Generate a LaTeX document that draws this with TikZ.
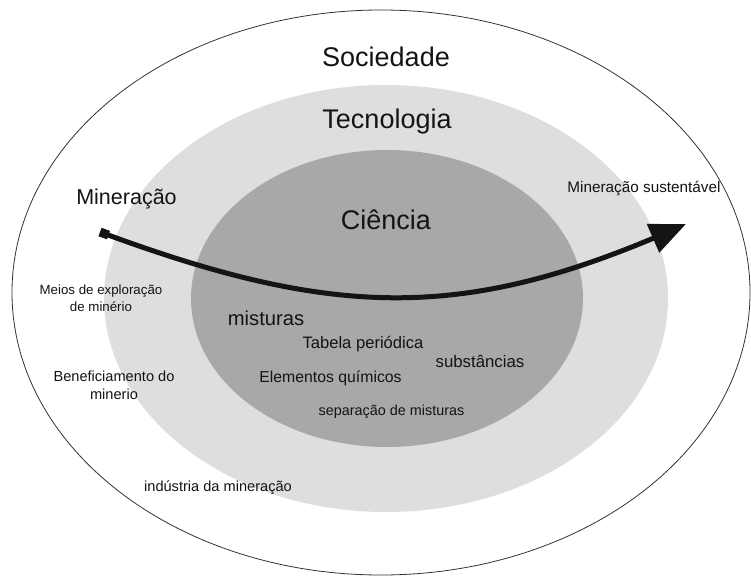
\documentclass[tikz,border=0pt]{standalone}
\usepackage{fontspec}
\setmainfont{Liberation Sans}
\usetikzlibrary{arrows.meta,bending,shapes.geometric}
\definecolor{midgray}{gray}{0.87}
\definecolor{ingray}{gray}{0.66}
\definecolor{ink}{gray}{0.08}
\tikzset{
  ring/.style={ellipse, inner sep=0pt, draw=none},
  lbl/.style={inner sep=0pt, text=ink, align=center},
  fs/.style={font=\fontsize{#1}{#1*1.2}\selectfont},
}
\begin{document}
\begin{tikzpicture}[x=1pt,y=-1pt]
\useasboundingbox (0,0) rectangle (751,577);
\fill[white] (0,0) rectangle (751,577);
% rings
\node[ring, draw=black!80, line width=0.8pt, fill=white, minimum width=738pt, minimum height=565pt] (soc) at (381,292.5) {};
\node[ring, fill=midgray, minimum width=564pt, minimum height=427pt] (tec) at (386,298.5) {};
\node[ring, fill=ingray, minimum width=392pt, minimum height=297pt] (cie) at (387,298.5) {};
% titles
\node[lbl, font=\fontsize{27}{32}\selectfont] (tsoc) at (386,57) {Sociedade};
\node[lbl, font=\fontsize{27}{32}\selectfont] (ttec) at (387,122) {Tecnologia};
\node[lbl, font=\fontsize{27}{32}\selectfont] (tcie) at (386,220) {Ciência};
% arrow
\coordinate (start) at (100,232);
\coordinate (end) at (686,224);
\draw[ink, line width=5pt, {Square[length=9pt,width=9pt]}-{Triangle[length=36pt,width=30pt]}]
  (start) .. controls (340,321) and (470,321) .. (end);
\node[lbl, font=\fontsize{21.5}{26}\selectfont] (min) at (126.5,199) {Mineração};
\node[lbl, font=\fontsize{15.3}{18}\selectfont] (minsus) at (644,188) {Mineração sustentável};
% outer labels
\node[lbl, font=\fontsize{13.3}{17}\selectfont] (meios) at (101,298.5) {Meios de exploração\\de minério};
\node[lbl, font=\fontsize{14.6}{18}\selectfont] (benef) at (114,385) {Beneficiamento do\\minerio};
\node[lbl, font=\fontsize{14.6}{18}\selectfont] (ind) at (218,488) {indústria da mineração};
% inner labels
\node[lbl, font=\fontsize{20.2}{24}\selectfont] (mist) at (266,318) {misturas};
\node[lbl, font=\fontsize{16.6}{20}\selectfont] (tab) at (363,344) {Tabela periódica};
\node[lbl, font=\fontsize{16.8}{20}\selectfont] (subs) at (480,361) {substâncias};
\node[lbl, font=\fontsize{15.8}{19}\selectfont] (elem) at (330.5,378) {Elementos químicos};
\node[lbl, font=\fontsize{14.4}{17}\selectfont] (sep) at (391.5,412) {separação de misturas};
\end{tikzpicture}
\end{document}
